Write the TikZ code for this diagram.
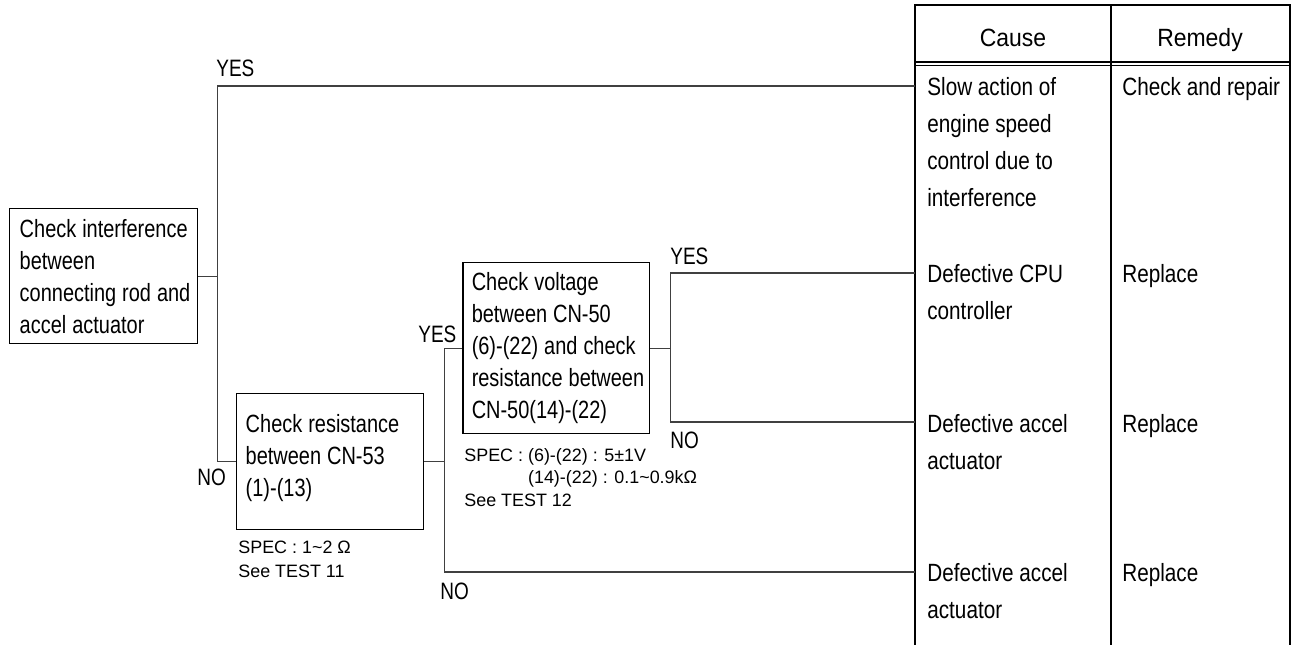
\documentclass[tikz,border=0pt]{standalone}
\usepackage{fontspec}
\setmainfont{Liberation Sans}[FakeStretch=0.8]
\newfontfamily\headfont{Liberation Sans}[FakeStretch=0.92]
\newfontfamily\cellfont{Liberation Sans}[FakeStretch=0.83]
\newfontfamily\specfont{Liberation Sans}

\tikzset{
  chk/.style={draw=black, line width=0.85pt, align=left, anchor=north west,
    font=\fontsize{14.2}{18.2}\selectfont,
    execute at begin node={\spaceskip=3.4pt plus 1pt\relax}},
  wire/.style={draw=black!75, line width=0.6pt},
  lbl/.style={anchor=base west, inner sep=0pt, font=\fontsize{13.5}{16}\selectfont},
  spec/.style={anchor=north west, inner sep=0pt, align=left,
    font=\specfont\fontsize{10.2}{13.7}\selectfont},
  cell/.style={anchor=north west, inner sep=0pt, align=left,
    font=\cellfont\fontsize{14.2}{21}\selectfont},
  head/.style={anchor=base, inner sep=0pt, font=\headfont\fontsize{14.2}{17}\selectfont},
  frame/.style={draw=black, line width=1.1pt},
  rule/.style={draw=black, line width=0.6pt},
}

\begin{document}
\begin{tikzpicture}[x=0.02cm, y=-0.02cm]
\useasboundingbox (0,0) rectangle (1301,645);

% cause / remedy table
\draw[frame] (915,645) -- (915,5) -- (1290,5) -- (1290,645);
\draw[rule] (1111,5) -- (1111,645);
\draw[rule] (915,62) -- (1290,62);
\draw[rule] (915,65.5) -- (1290,65.5);
\node[head] (hcause) at (1013,47) {Cause};
\node[head] (hremedy) at (1200,47) {Remedy};

\node[cell] (cause1) at (927,77) {Slow action of\\engine speed\\control due to\\interference};
\node[cell] (cause2) at (927,264) {Defective CPU\\controller};
\node[cell] (cause3) at (927,414) {Defective accel\\actuator};
\node[cell] (cause4) at (927,563) {Defective accel\\actuator};
\node[cell] (fix1) at (1122,77) {Check and repair};
\node[cell] (fix2) at (1122,264) {Replace};
\node[cell] (fix3) at (1122,414) {Replace};
\node[cell] (fix4) at (1122,563) {Replace};

\coordinate (in1) at (915,86);
\coordinate (in2) at (915,273);
\coordinate (in3) at (915,422);
\coordinate (in4) at (915,572);

% check boxes
\node[chk, inner xsep=0.2cm, text width=3.36cm, minimum height=2.7cm] (chk1) at (9,208)
  {\mbox{Check interference}\\between\\\mbox{connecting rod and}\\\mbox{accel actuator}};
\node[chk, inner xsep=0.18cm, text width=3.38cm, minimum height=2.72cm] (chk2) at (236,393)
  {\mbox{Check resistance}\\\mbox{between CN-53}\\(1)-(13)\rule[-7.5pt]{0pt}{7.5pt}};
\node[chk, inner xsep=0.18cm, text width=3.38cm, minimum height=3.42cm] (chk3) at (462,262)
  {\mbox{Check voltage}\\\mbox{between CN-50}\\\mbox{(6)-(22) and check}\\\mbox{resistance between}\\\mbox{CN-50(14)-(22)}};

\node[spec] (spec1) at (238,541) {SPEC : 1\textasciitilde 2 Ω\\See TEST 11};
\node[spec, font=\specfont\fontsize{10.2}{12.8}\selectfont] (spec2) at (464,448)
  {SPEC : (6)-(22) : 5±1V\\\phantom{SPEC : }(14)-(22) : 0.1\textasciitilde 0.9kΩ\\See TEST 12};

% branches
\draw[wire] (chk1.east) -- ++(19,0) coordinate (j1);
\draw[wire] (in1) -| (j1) |- (chk2.west);
\draw[wire] (chk2.east) -- ++(20,0) coordinate (j2);
\draw[wire] (chk3.west) -| (j2) |- (in4);
\draw[wire] (chk3.east) -- ++(20,0) coordinate (j3);
\draw[wire] (in2) -| (j3) |- (in3);

\node[lbl] (yes1) at (216,77) {YES};
\node[lbl] (no1) at (197,485) {NO};
\node[lbl] (yes2) at (418,342) {YES};
\node[lbl] (no2) at (440,599) {NO};
\node[lbl] (yes3) at (670,264) {YES};
\node[lbl] (no3) at (670,448) {NO};
\end{tikzpicture}
\end{document}
